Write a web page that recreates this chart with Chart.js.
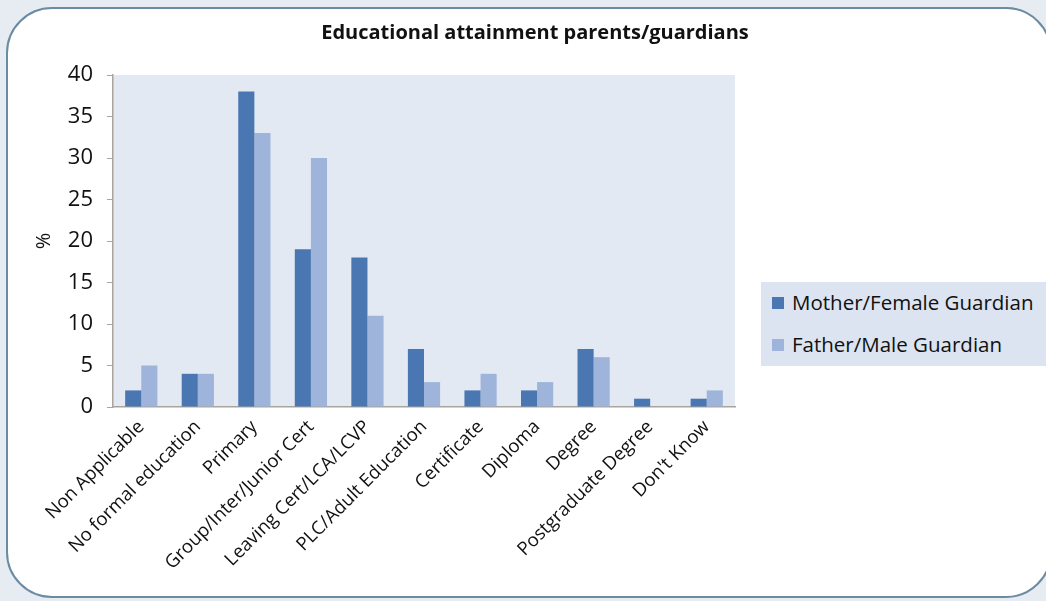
<!DOCTYPE html>
<html>
<head>
<meta charset="utf-8">
<script src="https://cdn.jsdelivr.net/npm/chart.js@4.4.0/dist/chart.umd.min.js"></script>
<style>
  html, body { margin: 0; padding: 0; background: #e6ecf1; overflow: hidden; }
  .panel {
    position: absolute; left: 6px; top: 7px; width: 1046px; height: 591px;
    background: #fff; border: 2px solid #6b8ba3; border-radius: 46px;
    box-sizing: border-box;
  }
  .wrap { position: absolute; left: 0; top: 0; width: 1046px; height: 601px; }
  .legend {
    position: absolute; left: 761px; top: 282px; width: 290px; height: 84px;
    background: #dbe4f0; font-family: "Open Sans", sans-serif; font-size: 20.5px; color: #111;
  }
  .legend div { position: absolute; left: 11px; height: 26px; line-height: 26px; white-space: nowrap; }
  .legend span { display: inline-block; width: 12px; height: 12px; margin-right: 8px; vertical-align: 1px; }
</style>
</head>
<body>
<div class="panel"></div>
<div class="wrap"><canvas id="eduChart"></canvas></div>
<div class="legend" id="legend"></div>
<script>
const categories = ['Non Applicable', 'No formal education', 'Primary', 'Group/Inter/Junior Cert',
  'Leaving Cert/LCA/LCVP', 'PLC/Adult Education', 'Certificate', 'Diploma', 'Degree',
  'Postgraduate Degree', "Don't Know"];
const motherValues = [2, 4, 38, 19, 18, 7, 2, 2, 7, 1, 1];
const fatherValues = [5, 4, 33, 30, 11, 3, 4, 3, 6, 0, 2];
const yTicks = [0, 5, 10, 15, 20, 25, 30, 35, 40];

const seriesNames = ['Mother/Female Guardian', 'Father/Male Guardian'];
const seriesColors = ['#4a77b2', '#9eb4da'];
const titleText = 'Educational attainment parents/guardians';
const FONT = '"Open Sans", sans-serif';

// plot area background + title
const decor = {
  id: 'decor',
  beforeDraw(chart) {
    const { ctx, chartArea: a } = chart;
    ctx.save();
    ctx.fillStyle = '#e3e9f2';
    ctx.fillRect(a.left, a.top, a.right - a.left, a.bottom - a.top);
    ctx.restore();
  },
  afterDraw(chart) {
    const ctx = chart.ctx;
    ctx.save();
    ctx.font = 'bold 20px ' + FONT;
    ctx.fillStyle = '#111';
    ctx.textAlign = 'center';
    ctx.textBaseline = 'middle';
    ctx.fillText(titleText, 535, 33);
    ctx.restore();
  }
};

const chart = new Chart(document.getElementById('eduChart'), {
  type: 'bar',
  data: {
    labels: categories,
    datasets: [
      { label: seriesNames[0], data: motherValues, backgroundColor: seriesColors[0] },
      { label: seriesNames[1], data: fatherValues, backgroundColor: seriesColors[1] }
    ]
  },
  options: {
    responsive: true,
    maintainAspectRatio: false,
    animation: false,
    layout: { padding: { left: 0, top: 75, right: 311, bottom: 0 } },
    datasets: { bar: { categoryPercentage: 0.57, barPercentage: 1 } },
    plugins: {
      legend: { display: false },
      title: { display: false },
      tooltip: { enabled: false }
    },
    scales: {
      x: {
        grid: { display: false, drawTicks: false },
        border: { color: '#a9a49d', width: 1.5 },
        ticks: {
          autoSkip: false, minRotation: 45, maxRotation: 45, padding: 9,
          color: '#111', font: { family: FONT, size: 18.5 }
        },
        afterFit(scale) { scale.height = 194; }
      },
      y: {
        min: 0, max: 40,
        afterBuildTicks(scale) { scale.ticks = yTicks.map(v => ({ value: v })); },
        grid: { drawOnChartArea: false, tickLength: 6, color: '#a9a49d' },
        border: { color: '#a9a49d', width: 1.5 },
        ticks: { padding: 14, color: '#111', font: { family: FONT, size: 22 } },
        title: {
          display: true, text: '%', color: '#111',
          font: { family: FONT, size: 20 }, padding: { top: 32, bottom: 0 }
        },
        afterFit(scale) { scale.width = 113; }
      }
    }
  },
  plugins: [decor]
});

// legend
const legend = document.getElementById('legend');
seriesNames.forEach((name, i) => {
  const row = document.createElement('div');
  row.style.top = (7 + i * 42) + 'px';
  row.innerHTML = '<span style="background:' + seriesColors[i] + '"></span>' + name;
  legend.appendChild(row);
});
</script>
</body>
</html>
